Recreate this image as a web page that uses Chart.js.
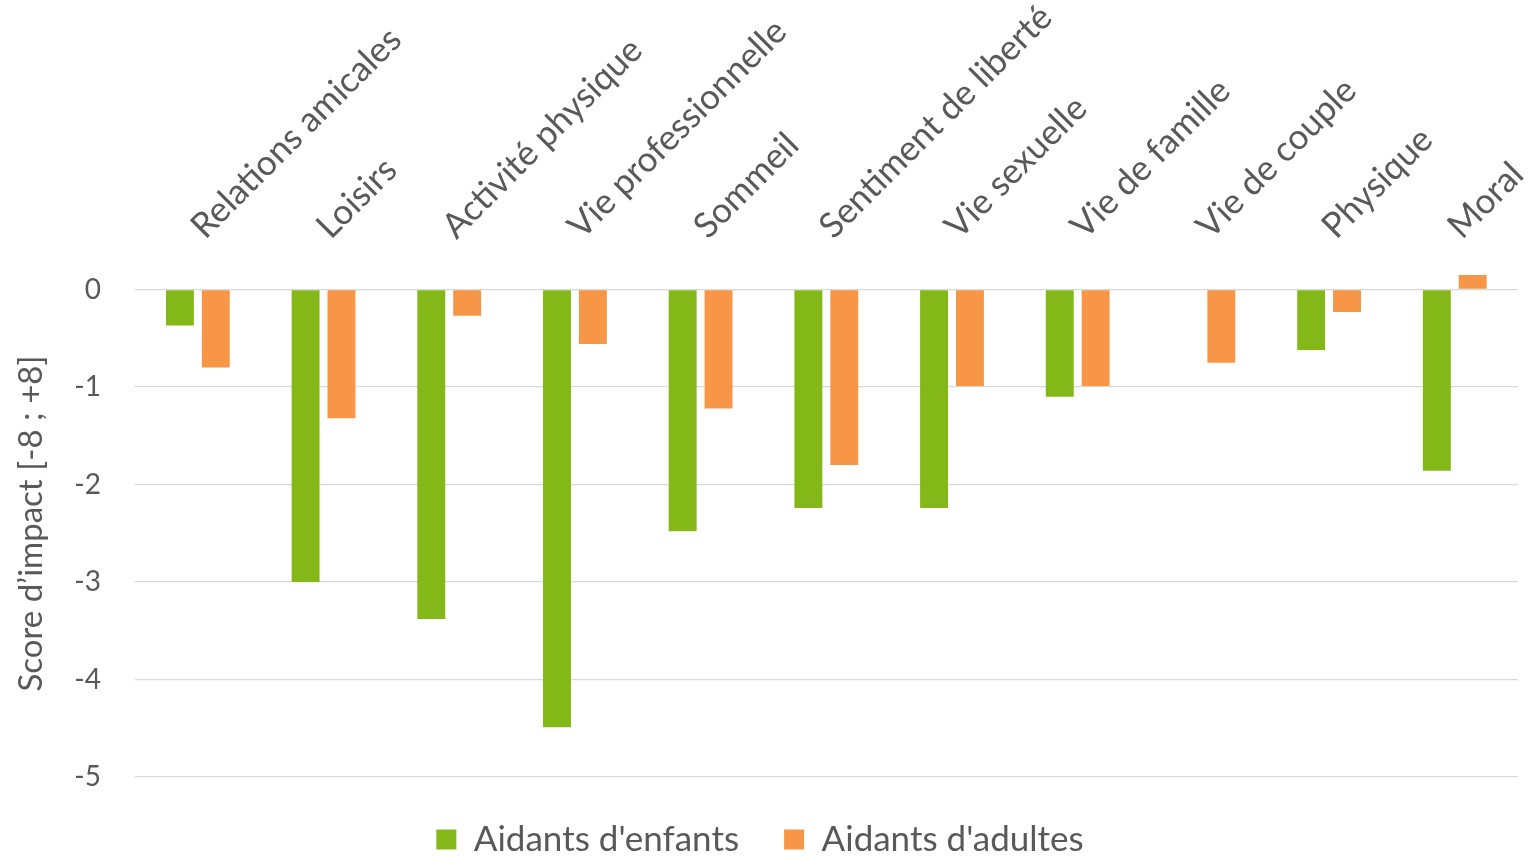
<!DOCTYPE html>
<html>
<head>
<meta charset="utf-8">
<script src="https://cdn.jsdelivr.net/npm/chart.js@4"></script>
<style>
    html, body { margin: 0; padding: 0; background: #ffffff; }
    #wrap { width: 1534px; height: 857px; }
</style>
</head>
<body>
<div id="wrap"><canvas id="impactChart" width="1534" height="857"></canvas></div>
<script>
const categories = ["Relations amicales", "Loisirs", "Activité physique", "Vie professionnelle", "Sommeil",
    "Sentiment de liberté", "Vie sexuelle", "Vie de famille", "Vie de couple", "Physique", "Moral"];
const enfants = [-0.37, -3.0, -3.38, -4.49, -2.48, -2.24, -2.24, -1.1, null, -0.62, -1.86];
const adultes = [-0.8, -1.32, -0.27, -0.56, -1.22, -1.8, -0.99, -0.99, -0.75, -0.23, 0.15];
const yTicks = [0, -1, -2, -3, -4, -5];

const textColor = "#595959";

document.addEventListener("DOMContentLoaded", () => {
    const ctx = document.getElementById("impactChart").getContext("2d");

    new Chart(ctx, {
        type: "bar",
        data: {
            labels: categories,
            datasets: [
                {
                    label: "Aidants d'enfants",
                    data: enfants,
                    backgroundColor: "#84b818",
                    categoryPercentage: 0.571,
                    barPercentage: 0.778
                },
                {
                    label: "Aidants d'adultes",
                    data: adultes,
                    backgroundColor: "#f79646",
                    categoryPercentage: 0.571,
                    barPercentage: 0.778
                }
            ]
        },
        options: {
            responsive: false,
            animation: false,
            layout: {
                padding: { left: 0, right: 14, top: 0, bottom: -10 }
            },
            plugins: {
                legend: {
                    display: true,
                    position: "bottom",
                    labels: {
                        color: textColor,
                        font: { family: "Lato", size: 35 },
                        boxWidth: 20,
                        boxHeight: 20,
                        padding: 45
                    }
                },
                tooltip: { enabled: false }
            },
            scales: {
                x: {
                    position: "top",
                    grid: { display: false },
                    border: { display: false },
                    ticks: {
                        color: textColor,
                        font: { family: "Lato", size: 35 },
                        minRotation: 45,
                        maxRotation: 45,
                        autoSkip: false,
                        padding: 15,
                        labelOffset: 29
                    },
                    afterFit: (scale) => { scale.height = 270; }
                },
                y: {
                    min: -5,
                    max: 0.2,
                    grid: { color: "#d9d9d9", lineWidth: 1.3, drawTicks: false },
                    border: { display: false },
                    afterBuildTicks: (scale) => {
                        scale.ticks = yTicks.map(v => ({ value: v }));
                    },
                    ticks: {
                        color: textColor,
                        font: { family: "Lato", size: 28 },
                        padding: 34
                    },
                    title: {
                        display: true,
                        text: "Score d’impact [-8 ; +8]",
                        color: textColor,
                        font: { family: "Lato", size: 33 },
                        padding: { top: 12, bottom: 0 }
                    },
                    afterFit: (scale) => { scale.width = 135; }
                }
            }
        }
    });
});
</script>
</body>
</html>
